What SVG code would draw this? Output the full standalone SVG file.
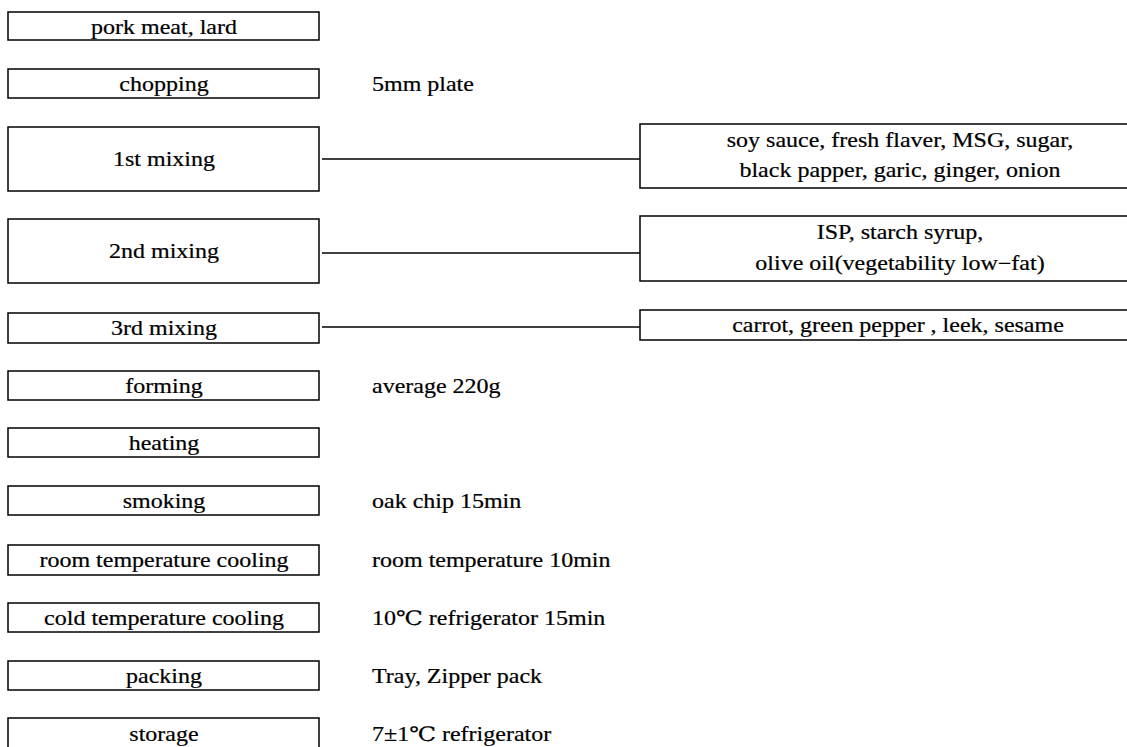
<svg xmlns="http://www.w3.org/2000/svg" width="1127" height="747" viewBox="0 0 1127 747">
<style>
.box{fill:#fff;stroke:#000;stroke-width:1.5}
.t{font-family:"Liberation Serif","DejaVu Serif",serif;font-size:20px;fill:#000;stroke:#000;stroke-width:0.2}
.c{text-anchor:middle}
.ln{stroke:#000;stroke-width:1.5;fill:none}
</style>
<rect width="1127" height="747" fill="#fff"/>
<g id="connectors">
<line class="ln" x1="322" y1="159" x2="640" y2="159"/>
<line class="ln" x1="322" y1="253" x2="640" y2="253"/>
<line class="ln" x1="322" y1="327" x2="640" y2="327"/>
</g>
<g id="n1"><rect class="box" x="8" y="12" width="311" height="28"/><text class="t c" transform="translate(164,34) scale(1.2,1)">pork meat, lard</text></g>
<g id="n2"><rect class="box" x="8" y="69" width="311" height="29"/><text class="t c" transform="translate(164,91) scale(1.2,1)">chopping</text></g>
<g id="n3"><rect class="box" x="8" y="127" width="311" height="64"/><text class="t c" transform="translate(164,166) scale(1.2,1)">1st mixing</text></g>
<g id="n4"><rect class="box" x="8" y="219" width="311" height="64"/><text class="t c" transform="translate(164,258) scale(1.2,1)">2nd mixing</text></g>
<g id="n5"><rect class="box" x="8" y="313" width="311" height="30"/><text class="t c" transform="translate(164,335) scale(1.2,1)">3rd mixing</text></g>
<g id="n6"><rect class="box" x="8" y="371" width="311" height="29"/><text class="t c" transform="translate(164,393) scale(1.2,1)">forming</text></g>
<g id="n7"><rect class="box" x="8" y="428" width="311" height="29"/><text class="t c" transform="translate(164,450) scale(1.2,1)">heating</text></g>
<g id="n8"><rect class="box" x="8" y="486" width="311" height="29"/><text class="t c" transform="translate(164,508) scale(1.2,1)">smoking</text></g>
<g id="n9"><rect class="box" x="8" y="545" width="311" height="30"/><text class="t c" transform="translate(164,567) scale(1.2,1)">room temperature cooling</text></g>
<g id="n10"><rect class="box" x="8" y="603" width="311" height="29"/><text class="t c" transform="translate(164,625) scale(1.2,1)">cold temperature cooling</text></g>
<g id="n11"><rect class="box" x="8" y="661" width="311" height="29"/><text class="t c" transform="translate(164,683) scale(1.2,1)">packing</text></g>
<g id="n12"><rect class="box" x="8" y="718" width="311" height="40"/><text class="t c" transform="translate(164,741) scale(1.2,1)">storage</text></g>
<g id="r1"><rect class="box" x="640" y="124" width="520" height="64"/><text class="t c" transform="translate(900,147) scale(1.2,1)">soy sauce, fresh flaver, MSG, sugar,</text><text class="t c" transform="translate(900,177) scale(1.2,1)">black papper, garic, ginger, onion</text></g>
<g id="r2"><rect class="box" x="640" y="216" width="520" height="65"/><text class="t c" transform="translate(900,239) scale(1.2,1)">ISP, starch syrup,</text><text class="t c" transform="translate(900,270) scale(1.2,1)">olive oil(vegetability low−fat)</text></g>
<g id="r3"><rect class="box" x="640" y="310" width="520" height="30"/><text class="t c" transform="translate(898,332) scale(1.2,1)">carrot, green pepper , leek, sesame</text></g>
<g id="notes">
<text class="t" transform="translate(372,91) scale(1.2,1)">5mm plate</text>
<text class="t" transform="translate(372,393) scale(1.2,1)">average 220g</text>
<text class="t" transform="translate(372,508) scale(1.2,1)">oak chip 15min</text>
<text class="t" transform="translate(372,567) scale(1.2,1)">room temperature 10min</text>
<text class="t" transform="translate(372,625) scale(1.2,1)">10℃ refrigerator 15min</text>
<text class="t" transform="translate(372,683) scale(1.2,1)">Tray, Zipper pack</text>
<text class="t" transform="translate(372,741) scale(1.2,1)">7±1℃ refrigerator</text>
</g>
</svg>
